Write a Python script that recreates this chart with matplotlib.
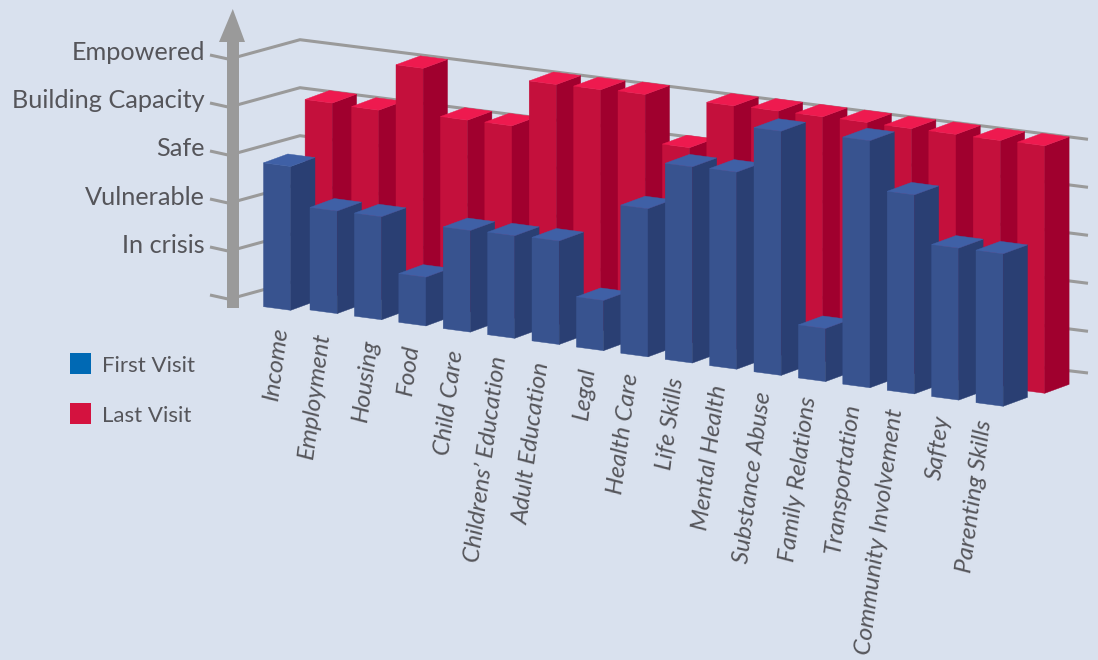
import matplotlib
matplotlib.use("Agg")
import matplotlib.pyplot as plt
from matplotlib.patches import Polygon, Rectangle

categories = ["Income", "Employment", "Housing", "Food", "Child Care", "Childrens\u2019 Education",
              "Adult Education", "Legal", "Health Care", "Life Skills", "Mental Health",
              "Substance Abuse", "Family Relations", "Transportation", "Community Involvement",
              "Saftey", "Parenting Skills"]
first_visit = [2.83, 1.97, 1.98, 0.85, 1.95, 1.97, 1.99, 0.88, 2.92, 3.92, 3.94, 4.92, 0.94, 4.98, 3.98, 3.00, 3.01]
last_visit = [3.88, 3.80, 4.80, 3.85, 3.86, 4.85, 4.87, 4.90, 3.92, 4.92, 4.94, 4.95, 4.96, 4.96, 4.97, 4.97, 4.99]
level_labels = ["In crisis", "Vulnerable", "Safe", "Building Capacity", "Empowered"]
levels = [1, 2, 3, 4, 5]

# layout of the oblique projection, in pixels
BG = "#D9E1EE"; GREY = "#9A9A9A"; TXT = "#55555A"
UNIT = 48.0; BASE = 8.0
ORIGIN = (265.6, 303.8); STEP = (44.4, 6.18); ROW = (41.6, -13.0)
WIDTH = (27.2, 3.6); DEPTH = (24.3, -8.9)
FIRST_SHIFT = (-2.1, 2.9)  # the first column sits slightly off the regular spacing
LABEL_END = [(281.7, 326.7), (323.3, 332.7), (371.7, 339.3), (412.3, 344.3), (456.7, 350), (500, 356.7),
             (543.3, 362.7), (588.3, 367.3), (631.7, 373.3), (677.3, 378.3), (720, 385), (765, 391.7),
             (809.3, 396.7), (853.3, 403.3), (896.7, 408.3), (943, 415), (985, 420)]
FONT = dict(family="Lato", weight="normal", color=TXT)

fig = plt.figure(figsize=(10.98, 6.60), dpi=100, facecolor=BG)
ax = fig.add_axes([0, 0, 1, 1])
ax.set_xlim(0, 1098); ax.set_ylim(660, 0); ax.axis("off")

# walls and level ticks
for k in range(6):
    dy = -UNIT * k
    ax.plot([210, 228], [295 + dy, 299 + dy], color=GREY, lw=2.2, zorder=1, solid_capstyle="butt")
    end = 373 if k == 0 else 379.3 + dy
    ax.plot([238, 300, 1088], [296.7 + dy, 279.7 + dy, end], color=GREY, lw=2.2, zorder=1,
            solid_capstyle="butt", solid_joinstyle="miter")


def add(a, b):
    return (a[0] + b[0], a[1] + b[1])


def bar(i, row, value, front, side, top):
    x0 = ORIGIN[0] + STEP[0] * i + ROW[0] * row
    y0 = ORIGIN[1] + STEP[1] * i + ROW[1] * row
    if i == 0:
        x0, y0 = add((x0, y0), FIRST_SHIFT)
    h = BASE + UNIT * value
    bl = (x0, y0)
    tl = (x0, y0 - h)
    br, tr = add(bl, WIDTH), add(tl, WIDTH)
    brb, trb = add(br, DEPTH), add(tr, DEPTH)
    tlb = add(tl, DEPTH)
    for pts, c in (([bl, br, tr, tl], front), ([br, brb, trb, tr], side), ([tl, tr, trb, tlb], top)):
        ax.add_patch(Polygon(pts, closed=True, facecolor=c, edgecolor=c, lw=0.3, zorder=2))


for i, v in enumerate(last_visit):
    bar(i, 1, v, "#C4103C", "#A0002E", "#EE1A4F")
for i, v in enumerate(first_visit):
    bar(i, 0, v, "#38538F", "#2A3F73", "#3F60A6")

# arrow axis
ax.add_patch(Polygon([(227, 308), (239, 308), (239, 42), (245, 42), (232.8, 9), (219, 42), (227, 42)],
                     closed=True, facecolor=GREY, edgecolor="none", zorder=3))

for lv, lab in zip(levels, level_labels):
    ax.text(205, 301 - 48.2 * lv, lab, ha="right", va="baseline", fontsize=18.2, zorder=4, **FONT)

for lab, (x, y) in zip(categories, LABEL_END):
    ax.text(x + 6, y + 0.8, lab, rotation=82.5, rotation_mode="anchor", ha="right", va="baseline",
            fontsize=17.6, style="italic", zorder=4, **FONT)

# legend
for y, c, lab in ((353, "#0069B4", "First Visit"), (403, "#D4123F", "Last Visit")):
    ax.add_patch(Rectangle((70, y), 21, 21, facecolor=c, edgecolor="none", zorder=4))
    ax.text(102, y + 19.4, lab, ha="left", va="baseline", fontsize=16, zorder=4, **FONT)

fig.savefig("out.png", dpi=100, facecolor=BG)
